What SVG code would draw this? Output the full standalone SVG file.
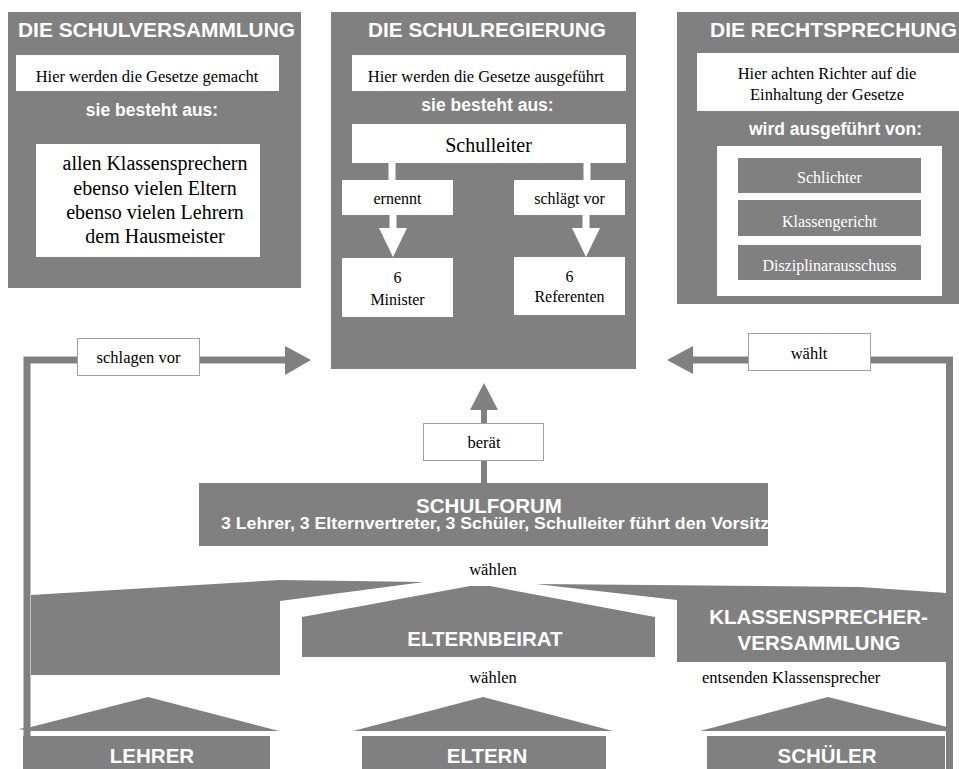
<svg xmlns="http://www.w3.org/2000/svg" width="959" height="769" viewBox="0 0 959 769">
<style>
.g{fill:#808080}
.w{fill:#ffffff}
.lb{fill:#ffffff;stroke:#a0a0a0;stroke-width:1}
.t{font-family:"Liberation Serif","Times New Roman",serif;font-size:16.5px;fill:#000;text-anchor:middle}
.tw{font-family:"Liberation Serif","Times New Roman",serif;font-size:16px;fill:#fff;text-anchor:middle}
.h{font-family:"Liberation Sans",Arial,sans-serif;font-weight:bold;font-size:20.5px;fill:#fff;text-anchor:middle}
.s{font-family:"Liberation Sans",Arial,sans-serif;font-weight:bold;font-size:17.5px;fill:#fff;text-anchor:middle}
.ln{fill:none;stroke:#808080;stroke-width:7}
</style>
<rect width="959" height="769" fill="#fff"/>

<g id="schulversammlung">
<rect class="g" x="8" y="12" width="293" height="276"/>
<text class="h" x="156.5" y="37" textLength="277" lengthAdjust="spacingAndGlyphs">DIE SCHULVERSAMMLUNG</text>
<rect class="w" x="16" y="55" width="263" height="36"/>
<text class="t" x="147" y="81.5">Hier werden die Gesetze gemacht</text>
<text class="s" x="152" y="116">sie besteht aus:</text>
<rect class="w" x="36" y="144" width="224" height="113"/>
<text class="t" x="155" y="170" style="font-size:20px">allen Klassensprechern</text>
<text class="t" x="155" y="195" style="font-size:20px">ebenso vielen Eltern</text>
<text class="t" x="155" y="219" style="font-size:20px">ebenso vielen Lehrern</text>
<text class="t" x="155" y="243" style="font-size:20px">dem Hausmeister</text>
</g>

<g id="schulregierung">
<rect class="g" x="331" y="12" width="305" height="357"/>
<text class="h" x="487" y="37" textLength="238" lengthAdjust="spacingAndGlyphs">DIE SCHULREGIERUNG</text>
<rect class="w" x="352" y="55" width="274" height="36"/>
<text class="t" x="486" y="81.5">Hier werden die Gesetze ausgeführt</text>
<text class="s" x="487.5" y="111">sie besteht aus:</text>
<rect class="w" x="352" y="124" width="274" height="39"/>
<text class="t" x="488.5" y="152" style="font-size:20px">Schulleiter</text>
<rect class="w" x="388.5" y="162" width="7" height="19"/>
<rect class="w" x="583.5" y="162" width="7" height="19"/>
<rect class="w" x="342" y="180" width="111" height="35"/>
<text class="t" x="397.5" y="204" style="font-size:16px">ernennt</text>
<rect class="w" x="514" y="180" width="111" height="35"/>
<text class="t" x="569.5" y="204" style="font-size:16px">schlägt vor</text>
<rect class="w" x="389.5" y="214" width="7" height="15"/>
<polygon class="w" points="379,228 407,228 393,257"/>
<rect class="w" x="582.5" y="214" width="7" height="15"/>
<polygon class="w" points="572,228 600,228 586,257"/>
<rect class="w" x="342" y="258" width="111" height="59"/>
<text class="t" x="397.5" y="283" style="font-size:16px">6</text>
<text class="t" x="397.5" y="305" style="font-size:16px">Minister</text>
<rect class="w" x="514" y="257" width="111" height="58"/>
<text class="t" x="569.5" y="282" style="font-size:16px">6</text>
<text class="t" x="569.5" y="302" style="font-size:16px">Referenten</text>
</g>

<g id="rechtsprechung">
<rect class="g" x="677" y="12" width="282" height="292"/>
<text class="h" x="833.5" y="37" textLength="247" lengthAdjust="spacingAndGlyphs">DIE RECHTSPRECHUNG</text>
<rect class="w" x="697" y="53" width="262" height="58"/>
<text class="t" x="827" y="79">Hier achten Richter auf die</text>
<text class="t" x="827" y="99.5">Einhaltung der Gesetze</text>
<text class="s" x="835.5" y="135">wird ausgeführt von:</text>
<rect class="w" x="717" y="146" width="225" height="150"/>
<rect class="g" x="738" y="158" width="183" height="35"/>
<text class="tw" x="829.5" y="182.5">Schlichter</text>
<rect class="g" x="738" y="200" width="183" height="36"/>
<text class="tw" x="829.5" y="226.5">Klassengericht</text>
<rect class="g" x="738" y="245" width="183" height="35"/>
<text class="tw" x="829.5" y="270.5">Disziplinarausschuss</text>
</g>

<g id="connectors">
<polyline class="ln" points="27,769 27,360 288,360"/>
<polygon class="g" points="285,346 311,360 285,375"/>
<polyline class="ln" points="949.5,769 949.5,360 690,360"/>
<polygon class="g" points="693,346 667,360 693,374"/>
<line x1="484" y1="483" x2="484" y2="406" stroke="#808080" stroke-width="6"/>
<polygon class="g" points="470,410 484,383 498,410"/>
<polygon class="g" points="18,729 31,727 148,697 279,731 31,731"/>
<polygon class="g" points="353,731 483,697 613,731"/>
<polygon class="g" points="700,731 828,697 947,727 947,731"/>
</g>

<g id="label-schlagen-vor">
<rect class="lb" x="77.5" y="338.5" width="122" height="37"/>
<text class="t" x="138.5" y="362.5">schlagen vor</text>
</g>
<g id="label-waehlt">
<rect class="lb" x="748.5" y="333.5" width="122" height="37"/>
<text class="t" x="809" y="359">wählt</text>
</g>
<g id="label-beraet">
<rect class="lb" x="423.5" y="423.5" width="120" height="37"/>
<text class="t" x="484" y="448">berät</text>
</g>

<g id="schulforum">
<rect class="g" x="199" y="483" width="569" height="63"/>
<text class="h" x="489" y="513">SCHULFORUM</text>
<text class="s" x="221" y="529" style="font-size:16px;text-anchor:start" textLength="548" lengthAdjust="spacingAndGlyphs">3 Lehrer, 3 Elternvertreter, 3 Schüler, Schulleiter führt den Vorsitz</text>
</g>

<g id="label-waehlen-1">
<text class="t" x="493" y="575">wählen</text>
</g>

<g id="lehrerkonferenz">
<polygon class="g" points="31,595 280,580 424,582 280,601 280,675 31,675"/>
</g>

<g id="elternbeirat">
<polygon class="g" points="302,617 470,586 490,586 655,617 655,657 302,657"/>
<text class="h" x="485" y="646">ELTERNBEIRAT</text>
</g>

<g id="klassensprecherversammlung">
<polygon class="g" points="536,584 860,587 947,593 947,662 677,662 677,600"/>
<text class="h" x="818.5" y="624">KLASSENSPRECHER-</text>
<text class="h" x="819" y="650">VERSAMMLUNG</text>
</g>

<g id="label-waehlen-2">
<text class="t" x="493" y="683">wählen</text>
</g>
<g id="label-entsenden">
<text class="t" x="702" y="683" style="text-anchor:start">entsenden Klassensprecher</text>
</g>

<g id="lehrer">
<rect class="g" x="23" y="736" width="247" height="33"/>
<text class="h" x="152" y="763">LEHRER</text>
</g>
<g id="eltern">
<rect class="g" x="362" y="736" width="244" height="33"/>
<text class="h" x="487" y="763">ELTERN</text>
</g>
<g id="schueler">
<rect class="g" x="707" y="736" width="238" height="33"/>
<text class="h" x="827" y="763">SCHÜLER</text>
</g>
</svg>
